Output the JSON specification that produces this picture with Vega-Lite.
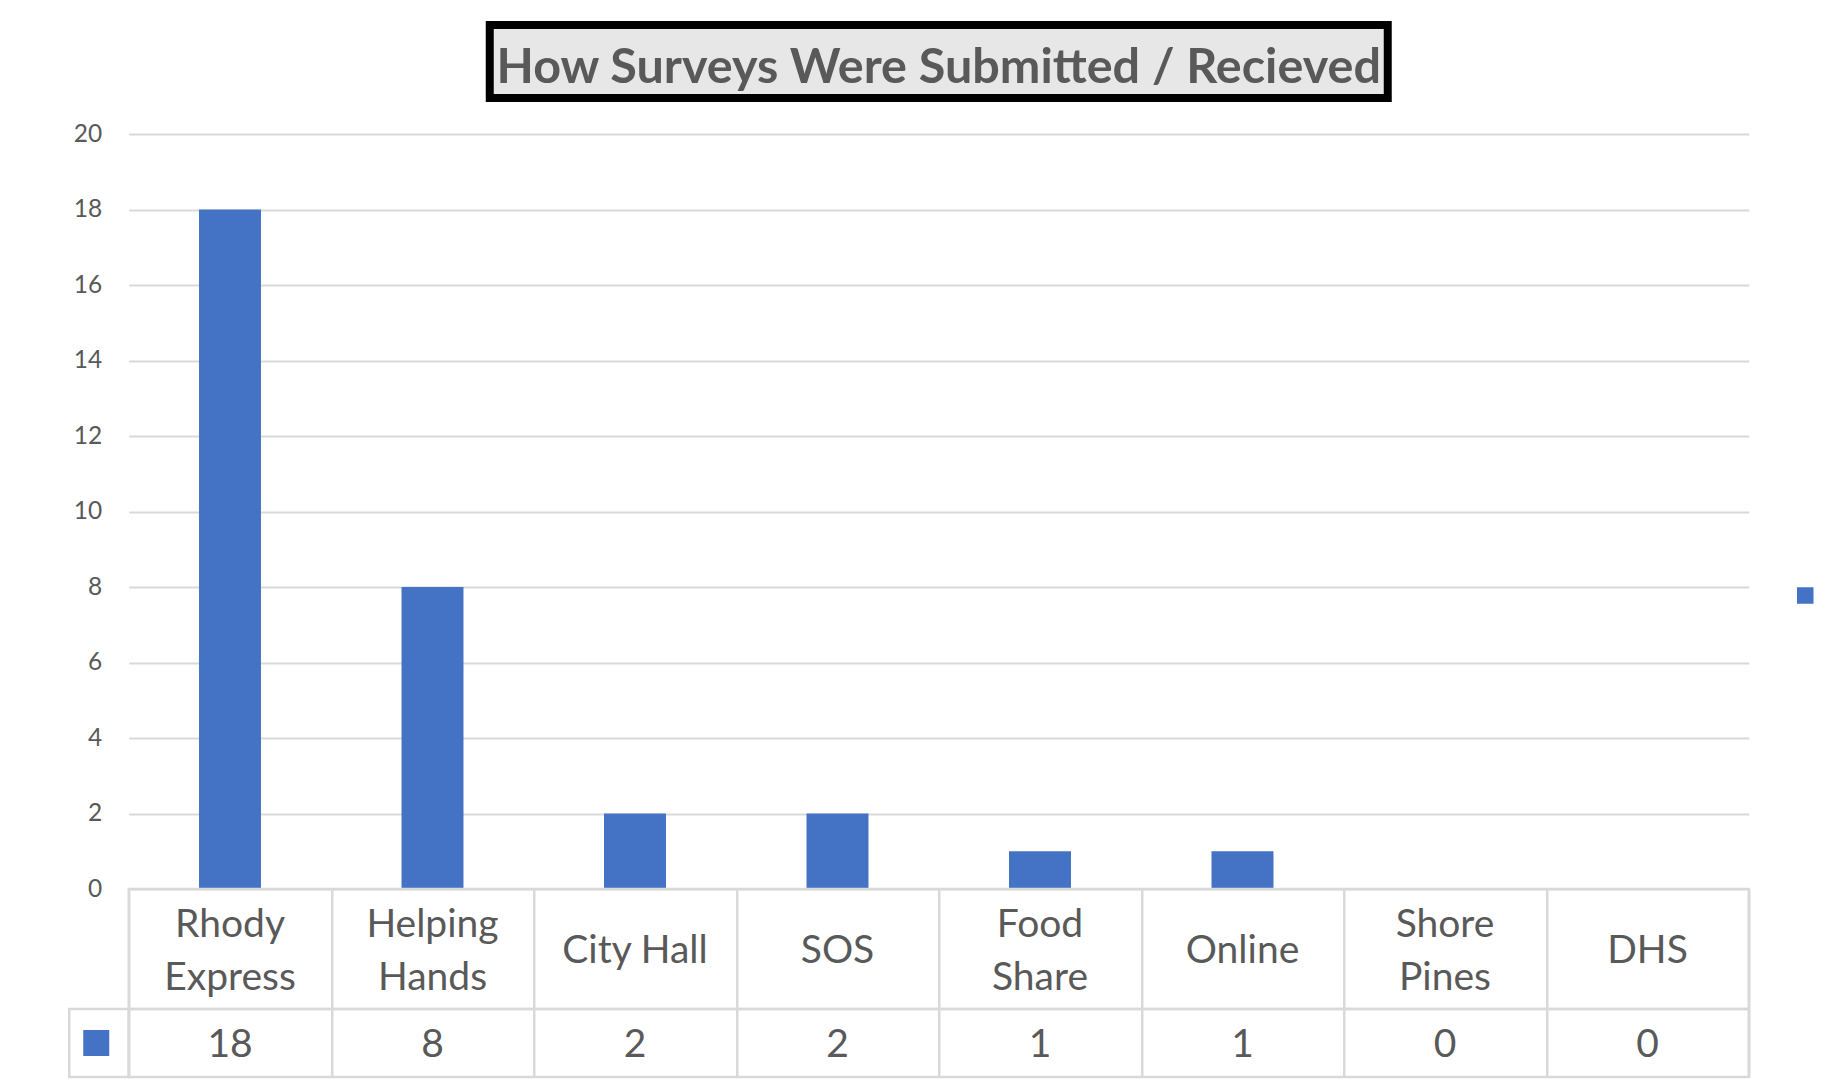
{
  "$schema": "https://vega.github.io/schema/vega-lite/v6.json",
  "background": "white",
  "padding": {"left": 66.75, "top": 21, "right": 20, "bottom": 5},
  "spacing": 0,
  "bounds": "flush",
  "center": true,
  "data": {"values": [
    {"source": "Rhody Express", "label": "Rhody\nExpress", "lines": 2, "count": 18},
    {"source": "Helping Hands", "label": "Helping\nHands", "lines": 2, "count": 8},
    {"source": "City Hall", "label": "City Hall", "lines": 1, "count": 2},
    {"source": "SOS", "label": "SOS", "lines": 1, "count": 2},
    {"source": "Food Share", "label": "Food\nShare", "lines": 2, "count": 1},
    {"source": "Online", "label": "Online", "lines": 1, "count": 1},
    {"source": "Shore Pines", "label": "Shore\nPines", "lines": 2, "count": 0},
    {"source": "DHS", "label": "DHS", "lines": 1, "count": 0}
  ]},
  "resolve": {"scale": {"x": "independent"}},
  "vconcat": [
    {
      "width": 898,
      "height": 73,
      "view": {"stroke": "#000000", "strokeWidth": 8, "fill": "#e7e7e7"},
      "data": {"values": [{"t": "How Surveys Were Submitted / Recieved"}]},
      "mark": {"type": "text", "font": "Lato", "fontWeight": "bold", "fontSize": 48.5, "color": "#595959", "baseline": "middle", "align": "center", "dy": 6},
      "encoding": {"text": {"field": "t", "type": "nominal"}}
    },
    {
      "width": 1620,
      "height": 791,
      "view": {"stroke": null},
      "mark": {"type": "bar", "width": {"band": 0.306}},
      "encoding": {
        "x": {"field": "source", "type": "nominal", "sort": null, "axis": null, "scale": {"paddingInner": 0, "paddingOuter": 0}},
        "y": {
          "field": "count", "type": "quantitative",
          "scale": {"domain": [0, 20.954], "nice": false},
          "axis": {"values": [0, 2, 4, 6, 8, 10, 12, 14, 16, 18, 20], "grid": true, "gridColor": "#d9d9d9", "gridWidth": 2, "domain": false, "ticks": false, "labelPadding": 27, "labelFont": "Lato", "labelFontSize": 24.5, "labelColor": "#595959", "title": null}
        },
        "color": {
          "datum": "Series1",
          "scale": {"range": ["#4472C4"]},
          "legend": {"orient": "none", "legendX": 1668, "legendY": 562, "title": null, "labelExpr": "''", "symbolType": "square", "symbolSize": 272, "symbolStrokeWidth": 0, "padding": 0, "symbolOpacity": 1}
        }
      }
    },
    {
      "width": 1620,
      "height": 120,
      "view": {"stroke": "#d9d9d9", "strokeWidth": 2.5},
      "encoding": {
        "x": {"field": "source", "type": "nominal", "sort": null, "scale": {"domain": ["Rhody Express", "Helping Hands", "City Hall", "SOS", "Food Share", "Online", "Shore Pines", "DHS"], "paddingInner": 0, "paddingOuter": 0}, "axis": {"grid": true, "tickBand": "extent", "gridColor": "#d9d9d9", "gridWidth": 2.5, "labels": false, "ticks": false, "domain": false, "title": null}},
        "text": {"field": "label", "type": "nominal"}
      },
      "layer": [
        {
          "transform": [{"filter": "datum.lines == 1"}],
          "mark": {"type": "text", "font": "Lato", "fontSize": 39, "color": "#595959", "baseline": "middle", "align": "center", "dy": 2}
        },
        {
          "transform": [{"filter": "datum.lines == 2"}],
          "mark": {"type": "text", "font": "Lato", "fontSize": 39, "color": "#595959", "lineBreak": "\n", "lineHeight": 53, "baseline": "middle", "align": "center", "dy": -24.5}
        }
      ]
    },
    {
      "width": 1620,
      "height": 68,
      "view": {"stroke": "#d9d9d9", "strokeWidth": 2.5},
      "layer": [
        {
          "mark": {"type": "text", "font": "Lato", "fontSize": 39, "color": "#595959", "baseline": "middle", "align": "center", "dy": 1.5},
          "encoding": {
            "x": {"field": "source", "type": "nominal", "sort": null, "scale": {"paddingInner": 0, "paddingOuter": 0}, "axis": {"grid": true, "tickBand": "extent", "gridColor": "#d9d9d9", "gridWidth": 2.5, "labels": false, "ticks": false, "domain": false, "title": null}},
            "text": {"field": "count", "type": "quantitative"}
          }
        },
        {
          "data": {"values": [{"k": "key"}]},
          "mark": {"type": "rect", "filled": false, "color": "#d9d9d9", "strokeWidth": 2.5},
          "encoding": {"x": {"value": -59.5}, "x2": {"value": 0}, "y": {"value": 0}, "y2": {"value": 68}}
        },
        {
          "data": {"values": [{"k": "key"}]},
          "mark": {"type": "square", "size": 676, "color": "#4472C4", "opacity": 1, "filled": true, "xOffset": -32.5},
          "encoding": {"x": {"value": 0}}
        }
      ]
    }
  ]
}
